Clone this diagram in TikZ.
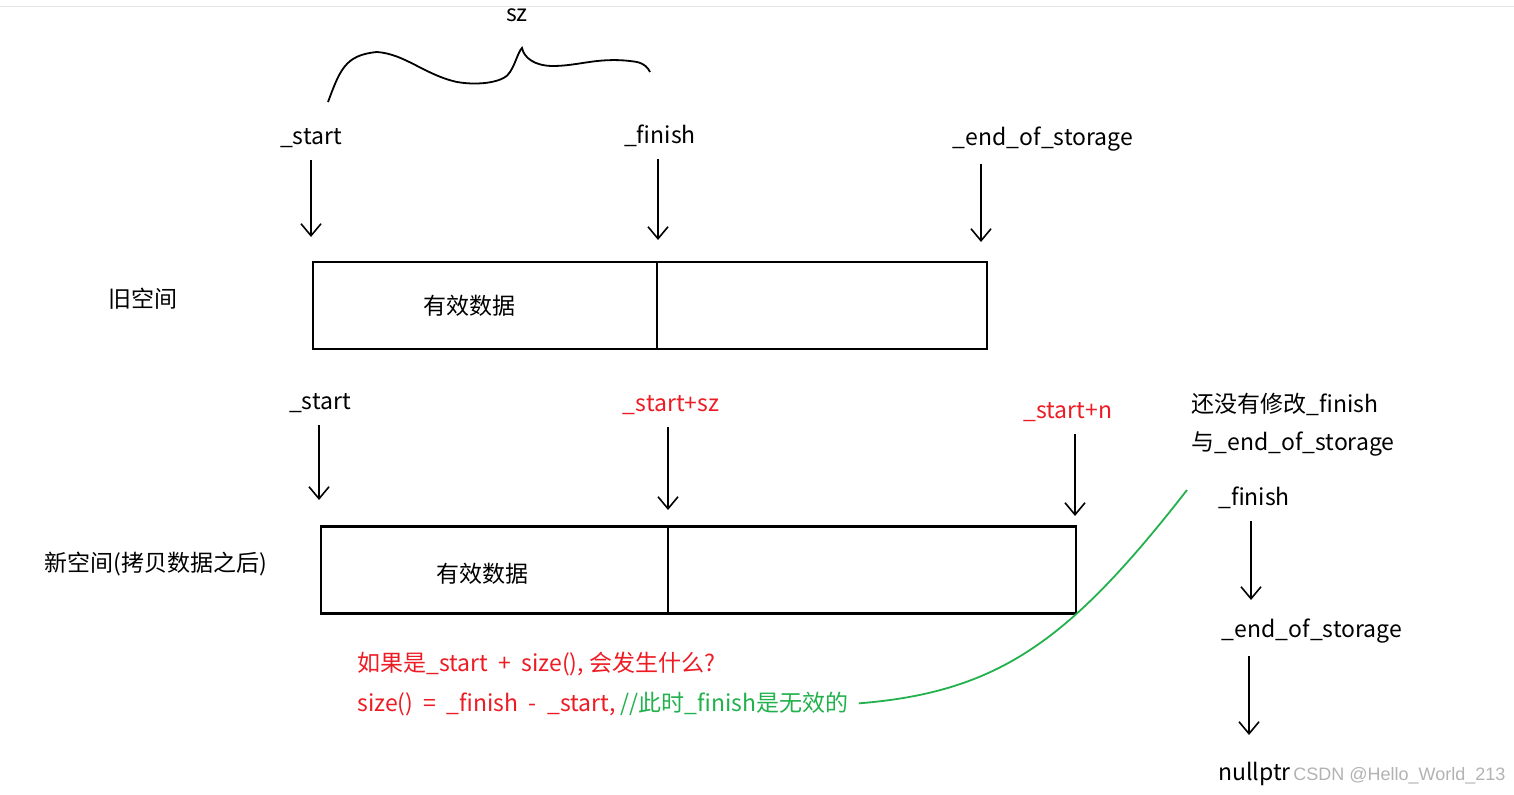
\documentclass[tikz,border=0pt]{standalone}
\usepackage{fontspec}
\setmainfont{Noto Sans CJK SC}
\newfontfamily\wmfont{Liberation Sans}
\usetikzlibrary{arrows.meta,positioning}
\definecolor{inkred}{HTML}{ED1C24}
\definecolor{inkgreen}{HTML}{22B14C}

\begin{document}
\begin{tikzpicture}[x=0.5pt,y=-0.5pt,
  lbl/.style={font=\fontsize{11.5}{14}\selectfont,inner sep=1pt},
  ptr/.style={-{Straight Barb[length=6pt,width=10pt]},line width=0.8pt,shorten <=5pt},
  blk/.style={draw,line width=1.2pt,minimum height=43.5pt,inner sep=0pt}
]
\useasboundingbox (0,0) rectangle (1514,795);
\draw[gray!20] (0,6) -- (1514,6);

% old space
\node[lbl] (sz) at (517,15) {sz};
\draw[line width=0.9pt] (328,102) .. controls (340,70) and (345,55) .. (377,52)
  .. controls (405,54) and (425,75) .. (457,82)
  .. controls (480,86) and (505,82) .. (510,72)
  .. controls (515,65) and (518,52) .. (522,48)
  .. controls (524,58) and (535,66) .. (553,66)
  .. controls (580,66) and (600,56) .. (637,62)
  .. controls (645,64) and (648,68) .. (650,72);
\node[lbl] (s1) at (311,138) {\_start};
\node[lbl] (f1) at (660,136) {\_finish};
\node[lbl] (e1) at (1043,139) {\_end\_of\_storage};
\coordinate (s1t) at (311,237);
\coordinate (f1t) at (658,240);
\coordinate (e1t) at (981,242);
\draw[ptr] (s1) -- (s1t);
\draw[ptr] (f1.south -| f1t) -- (f1t);
\draw[ptr] (e1.south -| e1t) -- (e1t);
\node[blk,minimum width=337pt] (old) at (650,305.5) {};
\draw[line width=1.2pt] (old.north -| 657,0) -- (old.south -| 657,0);
\node[lbl] (od) at (469,306) {有效数据};
\node[lbl] (ol) at (143,299) {旧空间};

% new space
\node[lbl] (s2) at (320,403) {\_start};
\node[lbl,text=inkred] (f2) at (671,405) {\_start+sz};
\node[lbl,text=inkred] (e2) at (1068,412) {\_start+n};
\coordinate (s2t) at (319,500);
\coordinate (f2t) at (668,510);
\coordinate (e2t) at (1075,516);
\draw[ptr] (s2.south -| s2t) -- (s2t);
\draw[ptr] (f2.south -| f2t) -- (f2t);
\draw[ptr] (e2.south -| e2t) -- (e2t);
\node[blk,minimum width=377.5pt] (new) at (698.5,570) {};
\draw[line width=1.2pt] (new.north -| 668,0) -- (new.south -| 668,0);
\node[lbl] (nd) at (482,574) {有效数据};
\node[lbl] (nl) at (156,564) {新空间(拷贝数据之后)};

% question
\node[lbl,text=inkred,anchor=west] (q1) at (355,664) {如果是\_start \ + \ size(), 会发生什么?};
\node[lbl,anchor=west] (q2) at (355,704) {\color{inkred}size() \ = \ \_finish \ - \ \_start, \color{inkgreen}//此时\_finish是无效的};
\coordinate (gEnd) at (1187,490);
\draw[inkgreen,line width=0.9pt,shorten <=4pt] (q2.east) .. controls (1000,692) and (1070,640) .. (gEnd);

% right side
\node[lbl,anchor=west,align=left] (note) at (1189,425) {还没有修改\_finish\\[5pt]与\_end\_of\_storage};
\node[lbl] (f3) at (1254,498) {\_finish};
\coordinate (f3t) at (1251,600);
\draw[ptr] (f3.south -| f3t) -- (f3t);
\node[lbl] (e3) at (1312,631) {\_end\_of\_storage};
\coordinate (e3t) at (1249,735);
\draw[ptr] (e3.south -| e3t) -- (e3t);
\node[lbl,anchor=west] (np) at (1216,774) {nullptr};
\node[anchor=west,text=gray!60,font=\wmfont\fontsize{9}{11}\selectfont,inner sep=0pt] (wm) at (1293,776) {CSDN @Hello\_World\_213};
\end{tikzpicture}
\end{document}
